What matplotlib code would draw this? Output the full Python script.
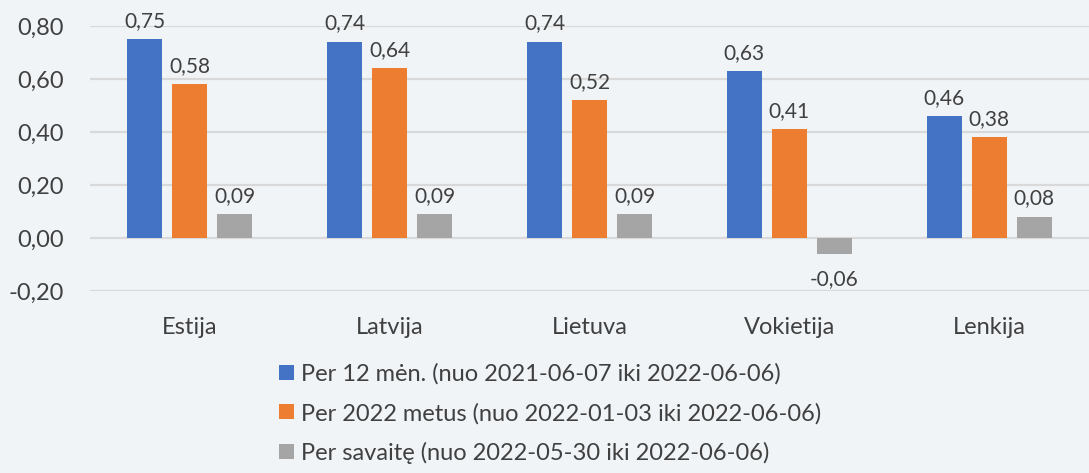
import matplotlib
matplotlib.use("Agg")
import matplotlib.pyplot as plt
import numpy as np

categories = ["Estija", "Latvija", "Lietuva", "Vokietija", "Lenkija"]
series_names = [
    "Per 12 mėn. (nuo 2021-06-07 iki 2022-06-06)",
    "Per 2022 metus (nuo 2022-01-03 iki 2022-06-06)",
    "Per savaitę (nuo 2022-05-30 iki 2022-06-06)",
]
per_12_men = [0.75, 0.74, 0.74, 0.63, 0.46]
per_2022 = [0.58, 0.64, 0.52, 0.41, 0.38]
per_savaite = [0.09, 0.09, 0.09, -0.06, 0.08]
yticks = [-0.20, 0.00, 0.20, 0.40, 0.60, 0.80]

colors = ["#4472C4", "#ED7D31", "#A5A5A5"]
bg = "#F0F4F7"
txt = "#404040"
plt.rcParams['font.family'] = ['Lato', 'DejaVu Sans']

fig = plt.figure(figsize=(10.89, 4.73), dpi=100, facecolor=bg)
ax = fig.add_axes([90/1089, 1-291/473, 1-90/1089, (291-26)/473], facecolor=bg)

x = np.arange(len(categories))
width = 0.175
step = 0.225
series = [per_12_men, per_2022, per_savaite]
handles = []
for i, (vals, c, name) in enumerate(zip(series, colors, series_names)):
    bars = ax.bar(x + (i - 1) * step, vals, width, color=c, label=name, zorder=3)
    handles.append(bars)
    for xi, v in zip(x + (i - 1) * step, vals):
        lab = f"{v:.2f}".replace(".", ",")
        if v >= 0:
            ax.annotate(lab, (xi, v), xytext=(0, 6), textcoords="offset points",
                        ha="center", va="bottom", fontsize=15, color=txt)
        else:
            ax.annotate(lab, (xi, v), xytext=(0, -11), textcoords="offset points",
                        ha="center", va="top", fontsize=15, color=txt)

ax.set_xlim(-0.5, len(categories) - 0.5)
ax.set_ylim(-0.2, 0.8)
ax.set_yticks(yticks)
ax.set_yticklabels([f"{t:.2f}".replace(".", ",") for t in yticks], fontsize=17, color=txt)
ax.set_xticks(x)
ax.set_xticklabels(categories, fontsize=17, color=txt)
ax.tick_params(axis="both", length=0)
ax.tick_params(axis="y", pad=19)
ax.tick_params(axis="x", pad=19)
ax.yaxis.grid(True, color="#D9D9D9", linewidth=1.6, zorder=0)
ax.set_axisbelow(True)
for s in ax.spines.values():
    s.set_visible(False)

leg = fig.legend(handles=handles, labels=series_names, loc="upper left",
                 bbox_to_anchor=(270/1089, 1-354/473), frameon=False,
                 fontsize=17, labelcolor=txt, handlelength=0.6, handleheight=0.6,
                 handletextpad=0.3, labelspacing=0.75, borderaxespad=0)

fig.savefig("out.png", dpi=100, facecolor=bg)
